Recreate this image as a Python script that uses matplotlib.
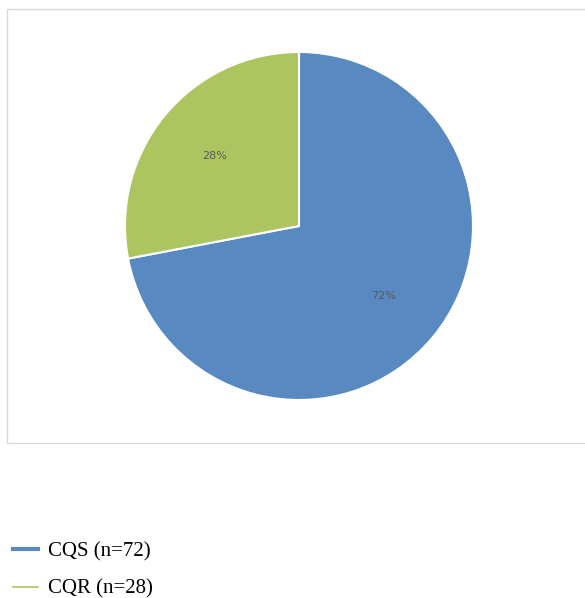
import matplotlib.pyplot as plt
import matplotlib.patches as patches
from matplotlib.lines import Line2D

# data
labels = ["CQS (n=72)", "CQR (n=28)"]
values = [72, 28]
colors = ["#5889C1", "#ADC560"]

fig = plt.figure(figsize=(5.85, 5.98), dpi=100)

# light grey chart frame
W, H = 585.0, 598.0
frame = patches.Rectangle((7 / W, 1 - 443 / H), (590 - 7) / W, (443 - 9) / H,
                          transform=fig.transFigure, fill=False,
                          edgecolor="#D9D9D9", linewidth=1)
fig.patches.append(frame)

# pie axes, center ~ (299, 226), radius ~174 px
ax = fig.add_axes([125 / W, 1 - 400 / H, 348 / W, 348 / H])
wedges, texts, autotexts = ax.pie(values, colors=colors, startangle=90,
                                  counterclock=False, autopct="%d%%",
                                  pctdistance=0.63, radius=1,
                                  wedgeprops=dict(edgecolor="white", linewidth=1.5))
for t in autotexts:
    t.set_color("#595959")
    t.set_fontsize(8)
    t.set_fontweight("medium")
ax.set_xlim(-1, 1)
ax.set_ylim(-1, 1)
ax.axis("off")

# legend below
handles = [Line2D([], [], color=colors[0], linewidth=3),
           Line2D([], [], color=colors[1], linewidth=1.2)]
fig.legend(handles, labels, loc="upper left",
           bbox_to_anchor=(13 / W, 1 - 542 / H),
           frameon=False, borderpad=0, borderaxespad=0,
           prop={"family": "Liberation Serif", "size": 15},
           handlelength=1.2, handletextpad=0.5, labelspacing=0.85)

fig.savefig("out.png", dpi=100)
